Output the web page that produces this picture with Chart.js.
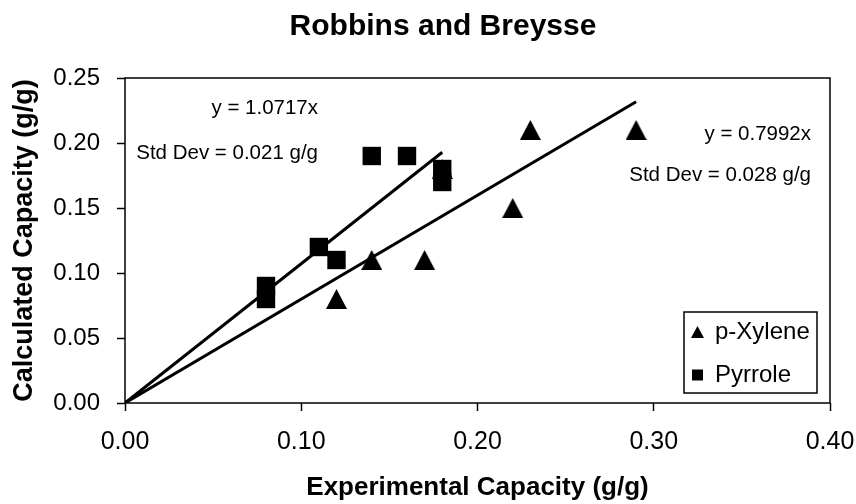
<!DOCTYPE html>
<html>
<head>
<meta charset="utf-8">
<title>Robbins and Breysse</title>
<script src="https://cdn.jsdelivr.net/npm/chart.js@4.4.1/dist/chart.umd.min.js"></script>
<style>
  html, body { margin: 0; padding: 0; background: #fff; }
  canvas { display: block; }
</style>
</head>
<body>
<canvas id="capacityChart" width="856" height="504"></canvas>
<script>
// Experimental vs calculated capacity (g/g) for each compound
const xyleneExp = [0.12, 0.14, 0.17, 0.18, 0.22, 0.23, 0.29]
const xyleneCalc = [0.08, 0.11, 0.11, 0.18, 0.15, 0.21, 0.21]
const pyrroleExp = [0.08, 0.08, 0.11, 0.12, 0.14, 0.16, 0.18, 0.18]
const pyrroleCalc = [0.08, 0.09, 0.12, 0.11, 0.19, 0.19, 0.18, 0.17]

// Fits through the origin (p-Xylene, Pyrrole)
const seriesNames = ['p-Xylene', 'Pyrrole']
const fitSlopes = [0.7992, 1.0717]
const fitStdDev = [0.028, 0.021]
const fitRangeX = [[0, 0.29], [0, 0.18]]

const xTicks = [0, 0.1, 0.2, 0.3, 0.4]
const yTicks = [0, 0.05, 0.1, 0.15, 0.2, 0.25]

const FONT = 'Arial, "Liberation Sans", sans-serif'
Chart.defaults.font.family = FONT
Chart.defaults.color = '#000'

const toPoints = (xs, ys) => xs.map((x, i) => ({ x, y: ys[i] }))
const fitLine = i => fitRangeX[i].map(x => ({ x, y: fitSlopes[i] * x }))

// box-centred triangle marker (the built-in one sits on its centroid)
function triangleMarker(w, h) {
  const c = document.createElement('canvas')
  c.width = w
  c.height = h
  const g = c.getContext('2d')
  g.fillStyle = '#000'
  g.beginPath()
  g.moveTo(w / 2, 0)
  g.lineTo(w, h)
  g.lineTo(0, h)
  g.closePath()
  g.fill()
  return c
}
const triangleBig = triangleMarker(21, 20)
const triangleSmall = triangleMarker(13, 12)

// chart heading, drawn over the plot
const chartTitle = {
  id: 'chartTitle',
  afterDraw(chart) {
    const ctx = chart.ctx
    ctx.save()
    ctx.font = `bold 30px ${FONT}`
    ctx.fillStyle = '#000'
    ctx.textAlign = 'center'
    ctx.textBaseline = 'alphabetic'
    ctx.fillText('Robbins and Breysse', 443, 35)
    ctx.restore()
  }
}

// closed box around the plot area
const plotFrame = {
  id: 'plotFrame',
  beforeDatasetsDraw(chart) {
    const { ctx, chartArea: ca } = chart
    ctx.save()
    ctx.strokeStyle = '#000'
    ctx.lineWidth = 1.5
    ctx.strokeRect(ca.left, ca.top, ca.right - ca.left, ca.bottom - ca.top)
    ctx.restore()
  }
}

// move the legend into the lower right corner and frame it
const legendBox = {
  id: 'legendBox',
  afterLayout(chart) {
    const lg = chart.legend
    const ca = chart.chartArea
    const w = 133, h = 81
    lg.frame = { x: ca.right - 13 - w, y: ca.bottom - 10 - h, w, h }
    lg.left = lg.frame.x - 11
    lg.top = lg.frame.y - 11
    lg.width = w + 22
    lg.height = h + 60
    lg.right = lg.left + lg.width
    lg.bottom = lg.top + lg.height
  },
  afterDraw(chart) {
    const f = chart.legend.frame
    if (!f) return
    const ctx = chart.ctx
    ctx.save()
    ctx.strokeStyle = '#000'
    ctx.lineWidth = 1.5
    ctx.strokeRect(f.x, f.y, f.w, f.h)
    ctx.restore()
  }
}

// slope and std dev text next to each fit line
const fitLabels = {
  id: 'fitLabels',
  afterDatasetsDraw(chart) {
    const { ctx, chartArea: ca } = chart
    const spots = [
      { right: ca.right - 19, top: ca.top + 62, bottom: ca.top + 103 },
      { right: ca.left + 193, top: ca.top + 36, bottom: ca.top + 81 }
    ]
    ctx.save()
    ctx.font = `20.5px ${FONT}`
    ctx.fillStyle = '#000'
    ctx.textAlign = 'right'
    ctx.textBaseline = 'alphabetic'
    spots.forEach((s, i) => {
      ctx.fillText(`y = ${fitSlopes[i]}x`, s.right, s.top)
      ctx.fillText(`Std Dev = ${fitStdDev[i].toFixed(3)} g/g`, s.right, s.bottom)
    })
    ctx.restore()
  }
}

const tickGrid = {
  drawOnChartArea: false,
  drawTicks: true,
  tickLength: 8,
  tickColor: '#000',
  tickWidth: 1.5
}

new Chart(document.getElementById('capacityChart'), {
  type: 'scatter',
  data: {
    datasets: [
      {
        label: seriesNames[0],
        data: toPoints(xyleneExp, xyleneCalc),
        pointStyle: triangleBig,
        pointRadius: 11,
        pointBorderWidth: 0,
        backgroundColor: '#000',
        borderColor: '#000',
        order: 1
      },
      {
        label: seriesNames[1],
        data: toPoints(pyrroleExp, pyrroleCalc),
        pointStyle: 'rect',
        pointRadius: 13,
        pointBorderWidth: 0,
        backgroundColor: '#000',
        borderColor: '#000',
        order: 0
      },
      {
        label: seriesNames[0] + ' fit',
        data: fitLine(0),
        showLine: true,
        pointRadius: 0,
        borderColor: '#000',
        borderWidth: 3,
        order: 2
      },
      {
        label: seriesNames[1] + ' fit',
        data: fitLine(1),
        showLine: true,
        pointRadius: 0,
        borderColor: '#000',
        borderWidth: 3,
        order: 2
      }
    ]
  },
  options: {
    responsive: false,
    animation: false,
    events: [],
    layout: { padding: { top: 78, right: 26, bottom: 0, left: 0 } },
    plugins: {
      title: { display: false },
      tooltip: { enabled: false },
      legend: {
        position: 'chartArea',
        align: 'start',
        labels: {
          usePointStyle: true,
          boxWidth: 11,
          boxHeight: 11,
          padding: 19,
          color: '#000',
          font: { size: 24 },
          filter: item => item.datasetIndex < 2,
          sort: (a, b) => a.datasetIndex - b.datasetIndex,
          generateLabels(chart) {
            const items = Chart.defaults.plugins.legend.labels.generateLabels(chart)
            return items.map(item => item.pointStyle === triangleBig
              ? { ...item, pointStyle: triangleSmall }
              : item)
          }
        }
      }
    },
    scales: {
      x: {
        type: 'linear',
        min: 0,
        max: 0.4,
        afterBuildTicks: s => { s.ticks = xTicks.map(value => ({ value })) },
        afterFit: s => {
          s.height = 101
          // end labels may hang past the plot edge
          s.paddingLeft = 0
          s.paddingRight = 0
        },
        ticks: {
          callback: v => v.toFixed(2),
          padding: 16,
          maxRotation: 0,
          autoSkip: false,
          font: { size: 25 }
        },
        grid: tickGrid,
        border: { display: false },
        title: {
          display: true,
          text: 'Experimental Capacity (g/g)',
          font: { size: 26, weight: 'bold' },
          padding: { top: 0, bottom: 1 }
        }
      },
      y: {
        type: 'linear',
        min: 0,
        max: 0.25,
        afterBuildTicks: s => { s.ticks = yTicks.map(value => ({ value })) },
        afterFit: s => { s.width = 125 },
        ticks: {
          callback: v => v.toFixed(2),
          padding: 17,
          autoSkip: false,
          font: { size: 24 }
        },
        grid: tickGrid,
        border: { display: false },
        title: {
          display: true,
          text: 'Calculated Capacity (g/g)',
          font: { size: 27, weight: 'bold' },
          padding: { top: 8, bottom: 0 }
        }
      }
    }
  },
  plugins: [chartTitle, plotFrame, legendBox, fitLabels]
})
</script>
</body>
</html>
